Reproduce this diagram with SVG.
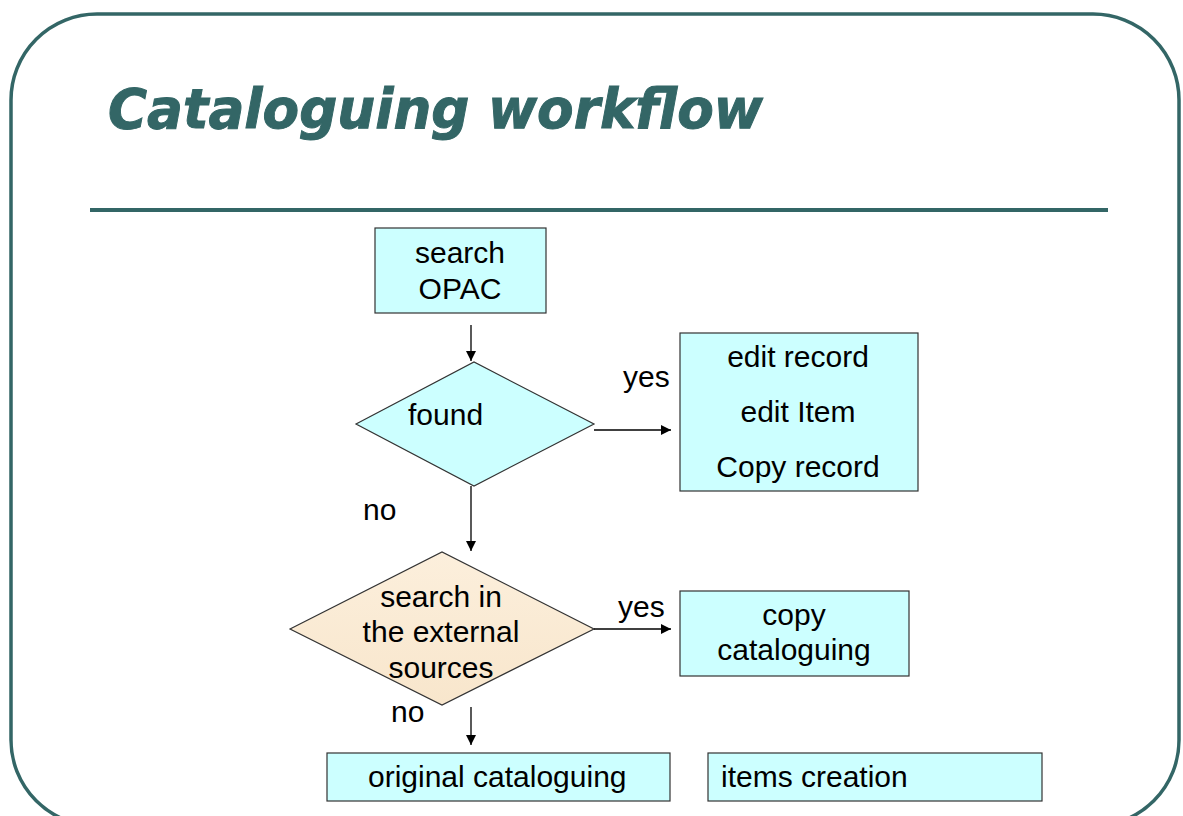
<svg xmlns="http://www.w3.org/2000/svg" width="1183" height="816" viewBox="0 0 1183 816">
<defs>
<marker id="arr" viewBox="0 0 10 10" refX="10" refY="5" markerWidth="10" markerHeight="10" markerUnits="userSpaceOnUse" orient="auto">
<path d="M0,0 L10,5 L0,10 z" fill="#000"/>
</marker>
<linearGradient id="beige" x1="0" y1="0" x2="0" y2="1">
<stop offset="0" stop-color="#FCEFDC"/>
<stop offset="1" stop-color="#F8E6CC"/>
</linearGradient>
</defs>
<style>
.frame{fill:none;stroke:#336666;stroke-width:3.5}
.box{fill:#CCFFFF;stroke:#333;stroke-width:1.2}
.dia2{fill:url(#beige);stroke:#333;stroke-width:1.2}
.t{font-family:"Liberation Sans",Arial,sans-serif;font-size:30px;fill:#000}
.c{text-anchor:middle}
.title{font-family:"DejaVu Sans",Verdana,sans-serif;font-weight:bold;font-style:italic;font-size:55px;fill:#336666;stroke:#336666;stroke-width:1}
.conn line{stroke:#000;stroke-width:1.3;marker-end:url(#arr)}
</style>
<rect x="11" y="14" width="1168" height="812" rx="86" ry="86" class="frame"/>
<text x="108" y="128" class="title" textLength="655" lengthAdjust="spacingAndGlyphs">Cataloguing workflow</text>
<line x1="90" y1="210" x2="1108" y2="210" stroke="#336666" stroke-width="4"/>

<g id="n-search-opac">
<rect x="375" y="228" width="171" height="85" class="box"/>
<text x="460" y="263" class="t c">search</text>
<text x="460" y="299" class="t c">OPAC</text>
</g>
<g id="n-found">
<polygon points="356,424 474,362 594,424 474,486" class="box"/>
<text x="408" y="425" class="t">found</text>
</g>
<g id="n-edit">
<rect x="680" y="333" width="238" height="158" class="box"/>
<text x="798" y="367" class="t c">edit record</text>
<text x="798" y="422" class="t c">edit Item</text>
<text x="798" y="477" class="t c">Copy record</text>
</g>
<g id="n-external">
<polygon points="290,629 442,552 594,629 442,705" class="dia2"/>
<text x="441" y="607" class="t c">search in</text>
<text x="441" y="642" class="t c">the external</text>
<text x="441" y="678" class="t c">sources</text>
</g>
<g id="n-copy">
<rect x="680" y="591" width="229" height="85" class="box"/>
<text x="794" y="625" class="t c">copy</text>
<text x="794" y="660" class="t c">cataloguing</text>
</g>
<g id="n-original">
<rect x="327" y="753" width="343" height="48" class="box"/>
<text x="368" y="787" class="t">original cataloguing</text>
</g>
<g id="n-items">
<rect x="708" y="753" width="334" height="48" class="box"/>
<text x="721" y="787" class="t">items creation</text>
</g>

<g id="connectors" class="conn">
<line x1="471" y1="325" x2="471" y2="361"/>
<line x1="594" y1="430" x2="671" y2="430"/>
<line x1="471" y1="486" x2="471" y2="551"/>
<line x1="594" y1="629" x2="671" y2="629"/>
<line x1="471" y1="707" x2="471" y2="745"/>
</g>
<g id="labels">
<text x="623" y="387" class="t">yes</text>
<text x="363" y="520" class="t">no</text>
<text x="618" y="617" class="t">yes</text>
<text x="391" y="722" class="t">no</text>
</g>
</svg>
